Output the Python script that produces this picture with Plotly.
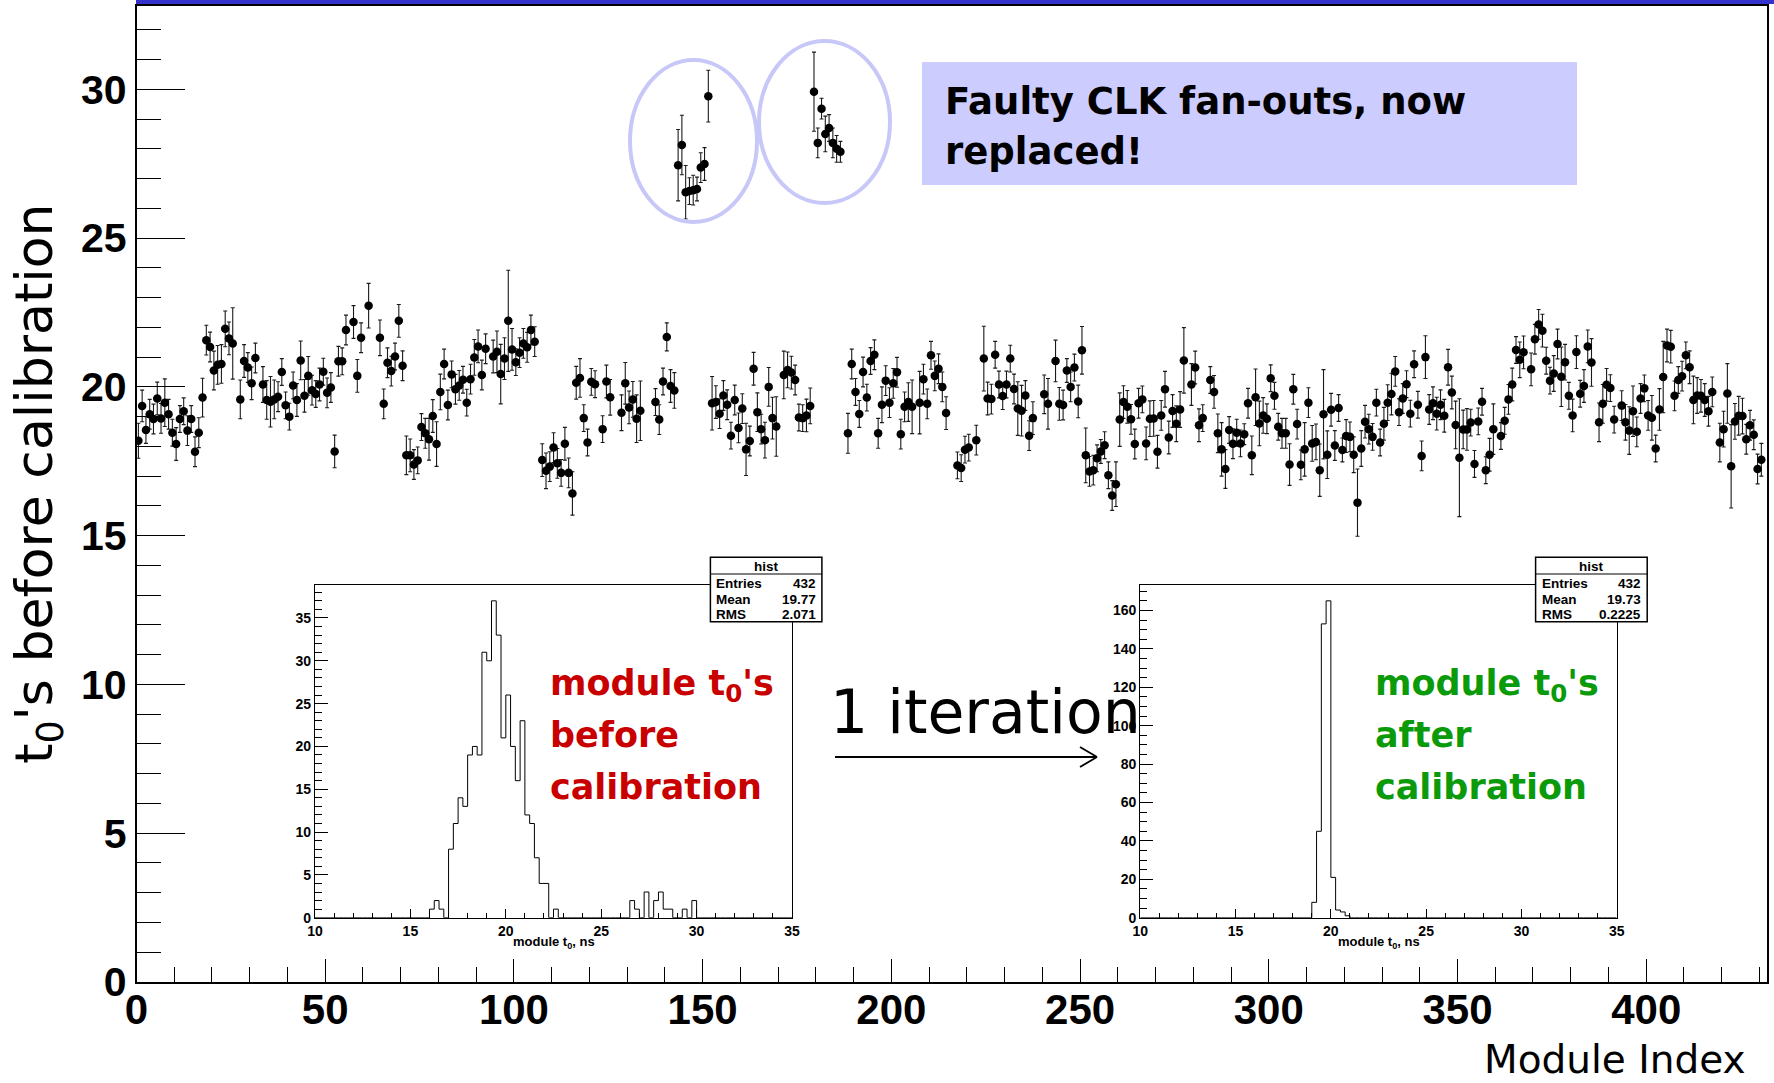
import plotly.graph_objects as go
import numpy as np

W, H = 1774, 1083

# ---------------- data: module t0 before calibration (index = module number, None = no fit) -------------
t0_before = [
    18.19, 19.36, 18.55, 19.08, 18.92, 19.61, 18.94, 19.47, 19.08, 18.46,
    18.08, 18.92, 19.18, 18.53, 18.92, 17.82, 18.46, 19.64, 21.57, 21.34,
    20.55, 20.74, 20.77, 21.95, 21.63, 21.46, None, 19.58, 20.87, 20.65,
    20.12, 20.97, None, 20.08, 19.56, 19.50, 19.58, 19.67, 20.50, 19.38,
    19.00, 20.05, 19.56, 20.89, 19.70, 20.37, 19.89, 19.76, 20.08, 20.51,
    19.80, 19.98, 17.83, 20.86, 20.86, 21.91, None, 22.18, 20.37, 21.65,
    None, 22.73, None, None, 21.65, 19.43, 20.81, 20.53, 21.02, 22.22,
    20.71, 17.70, 17.70, 17.39, 17.53, 18.65, 18.44, 18.24, 19.02, 18.08,
    19.83, 20.77, 19.39, 20.42, 19.92, 20.05, 20.24, 19.47, 20.26, 20.99,
    21.36, 20.40, 21.28, None, 21.02, 21.18, 20.43, 20.95, 22.22, 21.26,
    20.83, 21.15, 21.46, 21.33, 21.91, 21.52, None, 17.54, 17.18, 17.32,
    17.96, 17.43, 17.11, 18.09, 17.11, 16.42, 20.14, 20.30, 18.95, 18.13,
    20.17, 20.09, None, 18.58, 20.18, 19.65, None, None, 19.13, 20.12,
    19.31, 19.58, 18.93, 19.20, None, None, None, 19.49, 18.90, 20.18,
    21.68, 20.03, 19.88, 27.45, 28.13, 26.54, 26.58, 26.61, 26.65, 27.37,
    27.49, 29.77, 19.45, 19.49, 19.10, 19.71, 19.40, 18.36, 19.56, 18.62,
    19.27, 17.90, 18.18, 20.61, 19.15, 18.58, 18.21, 20.00, 18.95, 18.67,
    None, 20.40, 20.57, 20.48, 20.23, 18.97, 18.95, 19.04, 19.36, 29.92,
    28.20, 29.35, 28.50, 28.70, 28.20, 28.00, 27.90, None, 18.44, 20.77,
    19.83, 19.09, 20.50, 19.64, 20.87, 21.08, 18.44, 19.40, 20.21, 19.47,
    20.12, 20.49, 18.41, 19.33, 19.49, 19.33, None, 19.47, 20.26, 19.43,
    21.06, 20.37, 20.61, 20.00, 19.12, None, None, 17.36, 17.27, 17.89,
    17.96, None, 18.21, None, 20.95, 19.61, 19.59, 21.08, 20.08, 19.69,
    20.08, 20.95, 19.93, 19.27, 19.20, 19.71, 18.36, 18.95, None, None,
    19.75, 19.43, None, 20.87, 19.43, 19.39, 20.55, 20.00, 20.65, 19.51,
    21.23, 17.70, 17.16, 17.20, 17.60, 17.83, 18.04, 17.03, 16.35, 16.73,
    18.90, 19.49, 19.33, 18.91, 18.08, 19.45, 19.58, 18.10, 18.93, 18.94,
    17.82, 19.04, 19.92, 18.30, 19.19, 18.76, 19.24, 20.89, None, 20.08,
    20.65, 18.71, 18.95, None, 20.23, 19.83, 18.44, 17.90, 17.24, 18.55,
    18.09, 18.46, 18.10, 18.41, 19.45, 17.70, 19.65, 18.77, 19.04, 18.93,
    20.29, 19.70, 18.66, 18.44, 18.44, 17.39, 19.92, 18.75, 17.38, 17.90,
    19.47, 18.10, 18.15, 17.20, 19.08, 17.72, 19.23, 18.03, 19.29, 17.88,
    18.35, 18.32, 17.72, 16.11, 17.93, 18.83, 18.58, 18.32, 19.47, 18.13,
    18.76, 19.47, 19.76, 20.52, 19.15, 19.61, 20.09, 19.10, 20.76, 19.40,
    17.68, 21.00, 19.24, 19.45, 19.10, 19.40, 19.03, 20.66, 19.81, 18.72,
    17.62, 18.57, 18.57, 18.80, 17.41, 18.84, 19.50, 17.20, 17.72, 18.58,
    None, 18.35, 18.86, 19.58, 20.08, 21.24, 20.91, 21.16, None, 20.59,
    21.60, 22.10, 21.89, 20.88, 20.21, 20.45, 21.44, 20.34, 20.83, 19.70,
    19.04, 21.17, 19.77, 20.03, 21.36, 20.82, None, 18.81, 19.43, 20.07,
    19.96, 18.90, None, 19.37, 18.81, 18.53, 19.18, 18.49, 19.61, 19.95,
    19.04, 18.96, 17.93, 19.24, 20.33, 21.39, 21.35, 19.70, 20.23, 20.36,
    21.06, 20.66, 19.56, 19.71, 19.70, 19.56, 19.18, 19.83, None, 18.13,
    18.58, 19.78, 17.33, 18.84, 19.03, 19.02, 18.24, 18.71, 18.39, 17.24,
    17.55, None,
]

t0_error = [
    .59, .53, .45, .50, .50, .55, .50, .80, .50, .45,
    .55, .45, .45, .50, .45, .50, .50, .65, .50, .50,
    .65, .65, .65, .60, .55, 1.20, None, .65, .55, .50,
    .55, .50, None, .60, .65, .85, .65, .50, .45, .45,
    .45, .45, .55, .65, .55, .65, .50, .45, .55, .45,
    .50, .50, .55, .50, .45, .50, None, .55, .55, .50,
    None, .75, None, None, .60, .50, .50, .50, .45, .55,
    .50, .65, .55, .50, .45, .45, .50, .70, .55, .75,
    .60, .50, .50, .45, .50, .50, .45, .45, .50, .60,
    .55, .50, .50, None, .55, .70, 1.00, .70, 1.70, .70,
    .45, .50, .50, .50, .50, .50, None, .55, .60, .50,
    .50, .50, .45, .55, .50, .73, .55, .65, .45, .45,
    .45, .45, None, .45, .55, .60, None, None, .60, .70,
    .55, .60, .80, 1.00, None, None, None, .45, .50, .45,
    .47, .55, .60, 1.20, 1.00, .90, .45, .50, .40, .50,
    .55, .87, .90, .55, .50, .50, .50, .45, .50, .50,
    .50, .88, .50, .55, .65, .50, .60, .65, .70, 1.00,
    None, .80, .60, .55, .50, .45, .45, .55, .60, 1.33,
    .50, .35, .60, .45, .50, .45, .35, None, .67, .50,
    .45, .45, .50, .45, .45, .50, .50, .60, .50, .50,
    .50, .50, .50, .50, .65, .90, None, 1.05, .50, .50,
    .47, .50, .50, .50, .55, None, None, .45, .45, .45,
    .45, None, .50, None, 1.09, .55, .50, .45, .45, .45,
    .45, .45, .50, .90, .85, .50, .50, .55, None, None,
    .65, .85, None, .70, .55, .50, .40, .50, .45, .55,
    .80, .92, .50, .50, .45, .40, .45, .45, .50, .75,
    .90, .55, .55, .50, .50, .50, .45, .55, .60, .60,
    .55, .50, .60, .55, .55, .60, .60, 1.10, None, .70,
    .55, .55, .45, None, .45, .55, .65, .90, .65, .45,
    .50, .45, .45, .35, .50, .65, .95, .75, .60, .50,
    .45, .45, .45, .50, .50, .70, .50, .50, .50, .90,
    .50, .60, .60, .88, 1.50, .80, .55, .50, .45, .40,
    .55, .50, .60, 1.13, .60, .55, .50, .45, .45, .45,
    .55, .60, .70, .50, .45, .50, .45, .45, .45, .45,
    .50, .72, .50, .55, .55, .50, .55, .60, .55, .80,
    1.98, .65, .70, .45, .45, .45, .45, .45, .55, .85,
    None, .45, .45, .50, .55, .45, .60, .55, None, .55,
    .50, .50, .55, .45, .45, .60, .50, 1.00, .60, .45,
    .55, .55, .45, .55, .55, .80, None, .65, .65, .55,
    .45, .45, None, .50, .60, .80, .85, .50, .50, .45,
    .50, .75, .45, .70, 1.20, .55, .55, .50, .45, .50,
    .45, .55, .80, .60, .55, .55, .50, .50, None, .65,
    .60, 1.00, 1.40, .60, .65, .60, .50, .50, .50, .50,
    .55, None,
]

# histogram of module t0 before calibration: (bin low edge, count), bin width 0.25 ns
hist_before_low = [16.00, 16.25, 16.50, 17.00, 17.25, 17.50, 17.75, 18.00, 18.25, 18.50,
                   18.75, 19.00, 19.25, 19.50, 19.75, 20.00, 20.25, 20.50, 20.75, 21.00,
                   21.25, 21.50, 21.75, 22.00, 22.50, 26.50, 26.75, 27.25, 27.75, 28.00,
                   28.25, 28.50, 29.25, 29.75]
hist_before_cnt = [1, 2, 1, 8, 11, 14, 13, 19, 20, 19,
                   31, 30, 37, 33, 21, 26, 20, 16, 23, 12,
                   11, 7, 4, 4, 1, 2, 1, 3, 2, 3,
                   1, 1, 1, 2]
# histogram after 1 iteration
hist_after_low = [19.00, 19.25, 19.50, 19.75, 20.00, 20.25, 20.50, 20.75]
hist_after_cnt = [8, 45, 153, 165, 21, 4, 3, 1]

stats_before = [("Entries", "432"), ("Mean", "19.77"), ("RMS", "2.071")]
stats_after = [("Entries", "432"), ("Mean", "19.73"), ("RMS", "0.2225")]

x_ticks_main = [0, 50, 100, 150, 200, 250, 300, 350, 400]

# ---------------- helpers ----------------
def px(x):
    return x / W


def py(y):
    return 1 - y / H


def step_xy(lows, cnts, lo=10.0, hi=35.0, width=0.25):
    nb = int(round((hi - lo) / width))
    counts = np.zeros(nb)
    for l, c in zip(lows, cnts):
        counts[int(round((l - lo) / width))] = c
    edges = lo + width * np.arange(nb + 1)
    ys = list(counts) + [counts[-1]]
    return list(edges), ys


fig = go.Figure()

idx = [i + 0.5 for i, v in enumerate(t0_before) if v is not None]
vals = [v for v in t0_before if v is not None]
errs = [e for v, e in zip(t0_before, t0_error) if v is not None]

fig.add_trace(go.Scatter(
    x=idx, y=vals, mode="markers",
    marker=dict(color="black", size=8.5),
    error_y=dict(type="data", array=errs, visible=True, color="#1a1a1a", thickness=1.1, width=2),
    xaxis="x", yaxis="y", showlegend=False, hoverinfo="skip"))

bx, by = step_xy(hist_before_low, hist_before_cnt)
fig.add_trace(go.Scatter(x=bx, y=by, mode="lines", line=dict(color="black", width=1, shape="hv"),
                         xaxis="x2", yaxis="y2", showlegend=False, hoverinfo="skip"))
ax_, ay_ = step_xy(hist_after_low, hist_after_cnt)
fig.add_trace(go.Scatter(x=ax_, y=ay_, mode="lines", line=dict(color="black", width=1, shape="hv"),
                         xaxis="x3", yaxis="y3", showlegend=False, hoverinfo="skip"))

big = dict(family="Liberation Sans", size=41, color="black", weight="bold")
small = dict(family="Liberation Sans", size=14, color="black", weight="bold")

common = dict(showgrid=False, zeroline=False, showline=True, linecolor="black", mirror=True,
              ticks="inside", tickcolor="black", automargin=False)

fig.update_layout(
    width=W, height=H, autosize=False,
    margin=dict(l=0, r=0, t=0, b=0, pad=0),
    paper_bgcolor="white", plot_bgcolor="white",
    xaxis=dict(domain=[px(136.5), px(1767)], range=[0, 432], anchor="y",
               tickmode="array", tickvals=x_ticks_main, ticklen=23, tickwidth=1.2,
               minor=dict(dtick=10, tick0=0, ticks="inside", ticklen=15, tickcolor="black", tickwidth=1),
               tickfont=dict(family="Liberation Sans", size=42, color="black", weight="bold"),
               ticklabelstandoff=-10,
               linewidth=1.5, **common),
    yaxis=dict(domain=[py(982), py(6)], range=[0, 32.8], anchor="x",
               tick0=0, dtick=5, ticklen=49, tickwidth=1.2,
               minor=dict(dtick=1, tick0=0, ticks="inside", ticklen=25, tickcolor="black", tickwidth=1),
               tickfont=big, linewidth=1.5, **common),
    xaxis2=dict(domain=[px(315), px(792)], range=[10, 35], anchor="y2",
                tick0=10, dtick=5, ticklen=9, tickwidth=1,
                minor=dict(dtick=1, ticks="inside", ticklen=5, tickcolor="black"),
                tickfont=small, linewidth=1.2, **common),
    yaxis2=dict(domain=[py(917.7), py(585)], range=[0, 38.85], anchor="x2",
                tick0=0, dtick=5, ticklen=13, tickwidth=1,
                minor=dict(dtick=1, ticks="inside", ticklen=7, tickcolor="black"),
                tickfont=small, linewidth=1.2, **common),
    xaxis3=dict(domain=[px(1140.3), px(1616.7)], range=[10, 35], anchor="y3",
                tick0=10, dtick=5, ticklen=9, tickwidth=1,
                minor=dict(dtick=1, ticks="inside", ticklen=5, tickcolor="black"),
                tickfont=small, linewidth=1.2, **common),
    yaxis3=dict(domain=[py(917.7), py(585)], range=[0, 173.25], anchor="x3",
                tick0=0, dtick=20, ticklen=13, tickwidth=1,
                minor=dict(dtick=5, ticks="inside", ticklen=7, tickcolor="black"),
                tickfont=small, linewidth=1.2, **common),
)

shapes = []
# blue bar at top
shapes.append(dict(type="rect", xref="paper", yref="paper", x0=px(136), x1=1.0, y0=py(4), y1=1.0,
                   fillcolor="#3333cc", line=dict(width=0), layer="above"))
# faulty box
shapes.append(dict(type="rect", xref="paper", yref="paper", x0=px(922), x1=px(1577), y0=py(185), y1=py(62),
                   fillcolor="#ccccff", line=dict(width=0), layer="below"))
# ellipses
for (x0, x1, y0, y1) in [(630, 757, 60, 222), (759, 890, 41, 203)]:
    shapes.append(dict(type="circle", xref="paper", yref="paper", x0=px(x0), x1=px(x1), y0=py(y1), y1=py(y0),
                       line=dict(color="#c8c8f8", width=4), fillcolor="rgba(0,0,0,0)", layer="above"))
# arrow
shapes.append(dict(type="line", xref="paper", yref="paper", x0=px(835), x1=px(1097), y0=py(757), y1=py(757),
                   line=dict(color="black", width=1.8)))
shapes.append(dict(type="line", xref="paper", yref="paper", x0=px(1080), x1=px(1097), y0=py(747), y1=py(757),
                   line=dict(color="black", width=1.8)))
shapes.append(dict(type="line", xref="paper", yref="paper", x0=px(1080), x1=px(1097), y0=py(767), y1=py(757),
                   line=dict(color="black", width=1.8)))

annotations = []


def ann(text, x, y, font, xanchor="center", yanchor="middle", angle=0):
    annotations.append(dict(text=text, x=px(x), y=py(y), xref="paper", yref="paper", showarrow=False,
                            xanchor=xanchor, yanchor=yanchor, textangle=angle, font=font, align="left"))


# stats boxes
for (bx0, bx1, stats) in [(710.4, 821.9, stats_before), (1535.6, 1647.2, stats_after)]:
    shapes.append(dict(type="rect", xref="paper", yref="paper", x0=px(bx0), x1=px(bx1), y0=py(621.7), y1=py(557.3),
                       fillcolor="white", line=dict(color="black", width=1.5), layer="above"))
    shapes.append(dict(type="line", xref="paper", yref="paper", x0=px(bx0), x1=px(bx1), y0=py(574), y1=py(574),
                       line=dict(color="black", width=1.2), layer="above"))
    sf = dict(family="Liberation Sans", size=13.5, color="black", weight="bold")
    ann("hist", (bx0 + bx1) / 2, 566, sf)
    for k, ((lab, val), yy) in enumerate(zip(stats, [583, 599, 614])):
        ann(lab, bx0 + 4, yy, sf, xanchor="left")
        ann(val, bx1 - 4, yy, sf, xanchor="right")

# inset axis titles
tf = dict(family="Liberation Sans", size=13, color="black", weight="bold")
ann("module t<sub>0</sub>, ns", 553.6, 942, tf)
ann("module t<sub>0</sub>, ns", 1378.5, 942, tf)

comic = "DejaVu Sans"
red = dict(family=comic, size=35, color="#c80000", weight="bold")
green = dict(family=comic, size=35, color="#0a9a0a", weight="bold")
for (x0, f) in [(548, red), (1373, green)]:
    ann("module t<sub>0</sub>'s", x0, 686, f, xanchor="left")
    ann("before" if f is red else "after", x0, 735, f, xanchor="left")
    ann("calibration", x0, 787, f, xanchor="left")

ann("1 iteration", 985, 712, dict(family=comic, size=60, color="black"))
bf = dict(family=comic, size=37, color="black", weight="bold")
ann("Faulty CLK fan-outs, now", 943, 101, bf, xanchor="left")
ann("replaced!", 943, 151, bf, xanchor="left")

ann("t<sub>0</sub>'s before calibration", 38, 484, dict(family=comic, size=52, color="black"), angle=-90)
ann("Module Index", 1748, 1059, dict(family=comic, size=39, color="black"), xanchor="right")

fig.update_layout(shapes=shapes, annotations=annotations)
fig.write_html("out.html")
